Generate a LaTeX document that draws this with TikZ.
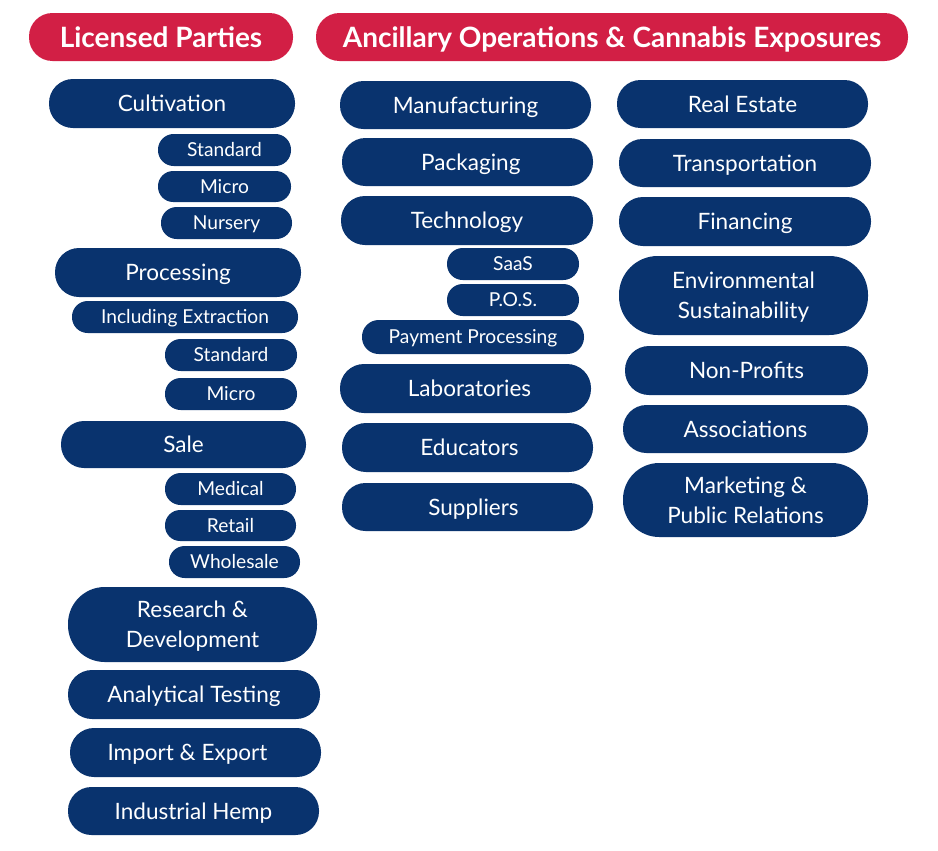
\documentclass[tikz,border=0pt]{standalone}
\usepackage{fontspec}
\setmainfont{Lato}
\definecolor{navy}{RGB}{9,51,110}
\definecolor{crimson}{RGB}{210,31,69}
\tikzset{
  pillbase/.style={fill=navy,text=white,inner sep=0pt,align=center},
  mainpill/.style={pillbase,font=\fontsize{16.9}{22.5}\selectfont,text height=12.1pt,text depth=0pt},
  twopill/.style={pillbase,font=\fontsize{16.9}{22.5}\selectfont,text depth=0pt},
  subpill/.style={pillbase,font=\fontsize{14.4}{16}\selectfont,text height=10.4pt,text depth=0pt},
  headpill/.style={pillbase,fill=crimson,font=\bfseries\fontsize{21}{24}\selectfont,text height=15.1pt,text depth=0pt},
}
% #1 style, #2 name, #3 x1, #4 y1, #5 x2, #6 y2, #7 text
\newcommand\pb[7][mainpill]{%
  \pgfmathsetmacro\pbcx{(#3+#5)/2}%
  \pgfmathsetmacro\pbcy{(#4+#6)/2}%
  \pgfmathsetmacro\pbw{(#5-#3)*0.75}%
  \pgfmathsetmacro\pbh{(#6-#4)*0.75}%
  \pgfmathsetmacro\pbr{(#6-#4)*0.75*0.49}%
  \node[#1,minimum width=\pbw pt,minimum height=\pbh pt,rounded corners=\pbr pt] (#2) at (\pbcx,\pbcy) {#7};%
}
\begin{document}
\begin{tikzpicture}[x=0.75pt,y=-0.75pt]
\useasboundingbox (0,0) rectangle (938,850);
% headers
\pb[headpill]{hLic}{29}{13}{293}{61}{Licensed Parties}
\pb[headpill]{hAnc}{316}{13}{908}{61}{Ancillary Operations \& Cannabis Exposures}
% left column
\pb{cult}{49}{79}{295}{128}{Cultivation}
\pb[subpill]{cStd}{158}{134}{291}{166}{Standard}
\pb[subpill]{cMic}{158}{171}{291}{202}{Micro}
\pb[subpill]{cNur}{161}{207}{292}{239}{Nursery}
\pb{proc}{55}{248}{301}{297}{Processing}
\pb[subpill]{pExt}{72}{301}{298}{333}{Including Extraction}
\pb[subpill]{pStd}{165}{339}{297}{371}{Standard}
\pb[subpill]{pMic}{165}{378}{297}{410}{Micro}
\pb{sale}{61}{421}{306}{468}{Sale}
\pb[subpill]{sMed}{165}{473}{296}{505}{Medical}
\pb[subpill]{sRet}{165}{510}{296}{541}{Retail}
\pb[subpill]{sWho}{169}{546}{300}{578}{Wholesale}
\pb[twopill]{rnd}{68}{587}{317}{662}{Research \&\\Development}
\pb{anal}{68}{670}{320}{719}{Analytical Testing}
\pb{impx}{70}{728}{321}{777}{Import \& Export\hspace*{12pt}}
\pb{hemp}{68}{787}{319}{835}{Industrial Hemp}
% middle column
\pb{manu}{340}{81}{591}{129}{Manufacturing}
\pb{pack}{342}{138}{593}{186}{\hspace*{5pt}Packaging}
\pb{tech}{341}{196}{593}{245}{Technology}
\pb[subpill]{saas}{447}{248}{579}{280}{SaaS}
\pb[subpill]{pos}{447}{284}{579}{316}{P.O.S.}
\pb[subpill]{paym}{362}{320}{584}{354}{Payment Processing}
\pb{labs}{340}{364}{591}{413}{\hspace*{6pt}Laboratories}
\pb{educ}{342}{423}{593}{472}{\hspace*{3pt}Educators}
\pb{supp}{342}{483}{593}{531}{\hspace*{9pt}Suppliers}
% right column
\pb{real}{617}{80}{868}{128}{Real Estate}
\pb{tran}{619}{139}{871}{187}{Transportation}
\pb{fina}{619}{197}{871}{246}{Financing}
\pb[twopill]{envi}{619}{256}{868}{335}{Environmental\\Sustainability}
\pb{nonp}{625}{346}{868}{395}{Non-Profits}
\pb{asso}{623}{405}{868}{453}{Associations}
\pb[twopill]{mark}{623}{463}{868}{537}{Marketing \&\\Public Relations}
\end{tikzpicture}
\end{document}
